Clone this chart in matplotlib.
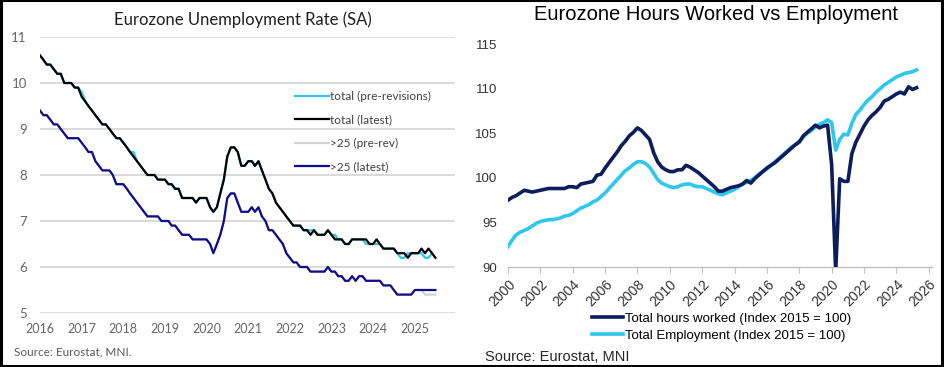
import matplotlib

matplotlib.use("Agg")

import matplotlib.dates as mdates
import matplotlib.pyplot as plt
import pandas as pd
from matplotlib.lines import Line2D

# Eurozone unemployment rate, monthly from Jan 2016
UNEMP_START = "2016-01-01"
TOTAL_LATEST = [
    10.6, 10.5, 10.4, 10.4, 10.3, 10.2, 10.2, 10.0, 10.0, 10.0, 9.9, 9.9,
    9.7, 9.6, 9.5, 9.4, 9.3, 9.2, 9.1, 9.1, 9.0, 8.9, 8.8, 8.8,
    8.7, 8.6, 8.5, 8.4, 8.3, 8.2, 8.1, 8.0, 8.0, 8.0, 7.9, 7.9,
    7.9, 7.8, 7.8, 7.7, 7.7, 7.5, 7.5, 7.5, 7.5, 7.4, 7.5, 7.5,
    7.5, 7.3, 7.2, 7.3, 7.6, 7.9, 8.4, 8.6, 8.6, 8.5, 8.2, 8.2,
    8.3, 8.3, 8.2, 8.3, 8.1, 7.9, 7.7, 7.6, 7.4, 7.3, 7.2, 7.1,
    7.0, 6.9, 6.9, 6.9, 6.8, 6.8, 6.7, 6.8, 6.7, 6.7, 6.7, 6.8,
    6.7, 6.6, 6.6, 6.6, 6.5, 6.5, 6.6, 6.6, 6.6, 6.6, 6.6, 6.5,
    6.5, 6.6, 6.5, 6.4, 6.4, 6.4, 6.4, 6.3, 6.3, 6.3, 6.2, 6.3,
    6.3, 6.3, 6.4, 6.3, 6.4, 6.3, 6.2,
]
TOTAL_PRE_REV = [
    10.6, 10.5, 10.4, 10.4, 10.3, 10.2, 10.2, 10.0, 10.0, 10.0, 9.9, 9.9,
    9.8, 9.6, 9.5, 9.4, 9.3, 9.2, 9.1, 9.1, 9.0, 8.9, 8.8, 8.8,
    8.7, 8.6, 8.5, 8.5, 8.3, 8.2, 8.1, 8.0, 8.0, 8.0, 7.9, 7.9,
    7.9, 7.8, 7.8, 7.7, 7.7, 7.5, 7.5, 7.5, 7.5, 7.4, 7.5, 7.5,
    7.5, 7.3, 7.2, 7.3, 7.6, 7.9, 8.4, 8.6, 8.6, 8.5, 8.2, 8.2,
    8.3, 8.3, 8.2, 8.3, 8.1, 7.9, 7.7, 7.6, 7.4, 7.3, 7.2, 7.1,
    7.0, 6.9, 6.9, 6.9, 6.8, 6.8, 6.8, 6.8, 6.7, 6.7, 6.7, 6.8,
    6.7, 6.7, 6.6, 6.6, 6.5, 6.5, 6.6, 6.6, 6.6, 6.6, 6.5, 6.5,
    6.5, 6.5, 6.5, 6.4, 6.4, 6.4, 6.4, 6.3, 6.2, 6.2, 6.3, 6.3,
    6.3, 6.3, 6.3, 6.2, 6.2, 6.3,
]
OVER25_LATEST = [
    9.4, 9.3, 9.3, 9.2, 9.1, 9.1, 9.0, 8.9, 8.8, 8.8, 8.8, 8.8,
    8.7, 8.6, 8.5, 8.5, 8.3, 8.2, 8.1, 8.1, 8.1, 8.0, 7.8, 7.8,
    7.8, 7.7, 7.6, 7.5, 7.4, 7.3, 7.2, 7.1, 7.1, 7.1, 7.1, 7.0,
    7.0, 7.0, 6.9, 6.9, 6.8, 6.7, 6.7, 6.7, 6.6, 6.6, 6.6, 6.6,
    6.6, 6.5, 6.3, 6.5, 6.7, 7.0, 7.5, 7.6, 7.6, 7.4, 7.2, 7.2,
    7.2, 7.3, 7.2, 7.3, 7.1, 7.0, 6.8, 6.8, 6.7, 6.6, 6.5, 6.3,
    6.2, 6.1, 6.1, 6.0, 6.0, 6.0, 5.9, 5.9, 5.9, 5.9, 5.9, 6.0,
    5.9, 5.9, 5.8, 5.8, 5.7, 5.7, 5.8, 5.7, 5.8, 5.8, 5.7, 5.7,
    5.7, 5.7, 5.7, 5.6, 5.6, 5.6, 5.5, 5.4, 5.4, 5.4, 5.4, 5.4,
    5.5, 5.5, 5.5, 5.5, 5.5, 5.5, 5.5,
]
OVER25_PRE_REV = [
    9.4, 9.3, 9.3, 9.2, 9.1, 9.1, 9.0, 8.9, 8.8, 8.8, 8.8, 8.8,
    8.7, 8.6, 8.5, 8.5, 8.3, 8.2, 8.1, 8.1, 8.1, 8.0, 7.8, 7.8,
    7.8, 7.7, 7.6, 7.5, 7.4, 7.3, 7.2, 7.1, 7.1, 7.1, 7.1, 7.0,
    7.0, 7.0, 6.9, 6.9, 6.8, 6.7, 6.7, 6.7, 6.6, 6.6, 6.6, 6.6,
    6.6, 6.5, 6.3, 6.5, 6.7, 7.0, 7.5, 7.6, 7.6, 7.4, 7.2, 7.2,
    7.2, 7.3, 7.2, 7.3, 7.1, 7.0, 6.8, 6.8, 6.7, 6.6, 6.5, 6.3,
    6.2, 6.1, 6.1, 6.0, 6.0, 6.0, 5.9, 5.9, 5.9, 5.9, 5.9, 6.0,
    5.9, 5.9, 5.8, 5.8, 5.7, 5.7, 5.8, 5.7, 5.8, 5.8, 5.7, 5.7,
    5.7, 5.7, 5.7, 5.6, 5.6, 5.6, 5.5, 5.4, 5.4, 5.4, 5.4, 5.4,
    5.5, 5.5, 5.5, 5.4, 5.4, 5.4, 5.4,
]
UNEMP_YTICKS = [5, 6, 7, 8, 9, 10, 11]

# Hours worked vs employment, quarterly from 2000Q1 (index 2015 = 100)
INDEX_START = "2000-01-01"
HOURS_WORKED = [
    97.5, 97.8, 98.0, 98.3, 98.6, 98.5, 98.4, 98.5,
    98.6, 98.7, 98.8, 98.8, 98.8, 98.8, 98.8, 99.0,
    99.0, 98.9, 99.3, 99.4, 99.5, 99.6, 100.3, 100.4,
    101.1, 101.7, 102.3, 102.9, 103.6, 104.1, 104.7, 105.1,
    105.6, 105.3, 104.8, 104.3, 102.8, 101.8, 101.2, 100.9,
    100.7, 100.7, 100.9, 100.9, 101.4, 101.2, 100.9, 100.6,
    100.2, 99.8, 99.4, 99.0, 98.5, 98.5, 98.7, 98.9,
    99.0, 99.1, 99.3, 99.7, 99.4, 99.9, 100.3, 100.7,
    101.1, 101.4, 101.7, 102.1, 102.5, 102.9, 103.3, 103.7,
    104.0, 104.7, 105.1, 105.5, 105.9, 105.6, 105.8, 105.9,
    101.5, 89.5, 99.9, 99.6, 99.6, 102.7, 104.0, 104.9,
    105.8, 106.5, 107.0, 107.4, 107.9, 108.6, 108.8, 109.1,
    109.4, 109.6, 109.4, 110.2, 109.9, 110.1,
]
EMPLOYMENT = [
    92.3, 93.0, 93.6, 93.9, 94.1, 94.3, 94.6, 94.9,
    95.1, 95.2, 95.3, 95.3, 95.4, 95.5, 95.7, 95.8,
    96.0, 96.3, 96.6, 96.8, 97.0, 97.3, 97.5, 97.9,
    98.3, 98.8, 99.3, 99.8, 100.3, 100.8, 101.1, 101.5,
    101.8, 101.8, 101.6, 101.2, 100.5, 99.8, 99.4, 99.2,
    99.0, 98.9, 99.0, 99.2, 99.3, 99.3, 99.1, 99.0,
    99.0, 98.8, 98.6, 98.4, 98.2, 98.1, 98.3, 98.5,
    98.7, 99.0, 99.3, 99.5, 99.7, 100.0, 100.4, 100.7,
    101.0, 101.4, 101.8, 102.2, 102.6, 103.0, 103.4, 103.7,
    104.1, 104.6, 105.0, 105.3, 105.7, 106.0, 106.2, 106.5,
    106.2, 103.1, 104.3, 104.9, 104.8, 106.1, 107.1, 107.6,
    108.2, 108.7, 109.1, 109.6, 110.0, 110.4, 110.7, 111.0,
    111.3, 111.5, 111.7, 111.8, 111.9, 112.1,
]
INDEX_YTICKS = [90, 95, 100, 105, 110, 115]

CYAN = "#2EC8EE"
NAVY_LEFT = "#0E0E8C"
NAVY_RIGHT = "#0B1D5C"
GRID = "#D9D9D9"
LEFT_FONT = "Lato"
RIGHT_FONT = "Liberation Sans"


def plot_unemployment(fig):
    ax = fig.add_axes([40 / 944, 1 - 313 / 367, 415 / 944, 276 / 367])
    dates = pd.date_range(UNEMP_START, periods=len(TOTAL_LATEST), freq="MS")

    ax.plot(dates[: len(TOTAL_PRE_REV)], TOTAL_PRE_REV, color=CYAN, lw=1.6,
            label="total (pre-revisions)")
    ax.plot(dates, TOTAL_LATEST, color="black", lw=1.6, label="total (latest)")
    ax.plot(dates[: len(OVER25_PRE_REV)], OVER25_PRE_REV, color="#D3D3D3",
            lw=1.6, label=">25 (pre-rev)")
    ax.plot(dates, OVER25_LATEST, color=NAVY_LEFT, lw=1.6, label=">25 (latest)")

    ax.set_xlim(pd.Timestamp("2016-01-01"), pd.Timestamp("2025-12-20"))
    ax.set_ylim(5, 11)
    ax.set_yticks(UNEMP_YTICKS)
    ax.xaxis.set_major_locator(mdates.YearLocator())
    ax.xaxis.set_major_formatter(mdates.DateFormatter("%Y"))
    ax.grid(True, axis="y", color=GRID, lw=1.4)
    ax.set_axisbelow(True)
    for s in ax.spines.values():
        s.set_visible(False)
    ax.tick_params(length=0, colors="#666666", labelsize=9)
    ax.tick_params(axis="x", pad=7)
    ax.tick_params(axis="y", pad=9.5, labelsize=9.5)
    for t in ax.get_xticklabels() + ax.get_yticklabels():
        t.set_fontfamily(LEFT_FONT)

    leg = ax.legend(loc="upper left", bbox_to_anchor=(0.59, 0.843),
                    frameon=False, handlelength=2.8, handletextpad=0.15,
                    labelspacing=1.05, prop={"family": LEFT_FONT, "size": 8.5})
    for t in leg.get_texts():
        t.set_color("#404040")

    fig.text(243 / 944, 1 - 20 / 367, "Eurozone Unemployment Rate (SA)",
             ha="center", va="center", fontsize=12, family=LEFT_FONT,
             color="#1F1F1F")
    fig.text(14 / 944, 1 - 352 / 367, "Source: Eurostat, MNI.", ha="left",
             va="center", fontsize=8.5, family=LEFT_FONT, color="#595959")


def plot_hours(fig):
    ax = fig.add_axes([508 / 944, 1 - 267 / 367, 424 / 944, 223 / 367])
    dates = pd.date_range(INDEX_START, periods=len(HOURS_WORKED), freq="QS")

    ax.plot(dates, HOURS_WORKED, color=NAVY_RIGHT, lw=2.6, zorder=3,
            label="Total hours worked (Index 2015 = 100)")
    ax.plot(dates, EMPLOYMENT, color=CYAN, lw=2.6,
            label="Total Employment (Index 2015 = 100)")

    ax.set_xlim(pd.Timestamp("2000-01-01"), pd.Timestamp("2026-03-15"))
    ax.set_ylim(90, 115)
    ax.set_yticks(INDEX_YTICKS)
    ax.xaxis.set_major_locator(mdates.YearLocator(2))
    ax.xaxis.set_major_formatter(mdates.DateFormatter("%Y"))
    for name in ["top", "right", "left"]:
        ax.spines[name].set_visible(False)
    ax.spines["bottom"].set_color("#BFBFBF")
    ax.spines["bottom"].set_linewidth(1.0)
    ax.tick_params(axis="y", length=0, pad=8, labelsize=9.5, colors="#333333")
    ax.tick_params(axis="x", length=4, color="#BFBFBF", pad=3.5, labelsize=10,
                   labelcolor="#333333")
    for t in ax.get_xticklabels():
        t.set_rotation(45)
        t.set_ha("right")
        t.set_va("top")
        t.set_rotation_mode("anchor")
    for t in ax.get_xticklabels() + ax.get_yticklabels():
        t.set_fontfamily(RIGHT_FONT)

    fig.legend(handles=ax.lines, loc="center", bbox_to_anchor=(0.764, 0.108),
               frameon=False, handlelength=2.4, handletextpad=0.1,
               labelspacing=0.35,
               prop={"family": RIGHT_FONT, "size": 9.5})

    fig.text(716 / 944, 1 - 14 / 367, "Eurozone Hours Worked vs Employment",
             ha="center", va="center", fontsize=14.5, family=RIGHT_FONT,
             color="black")
    fig.text(485 / 944, 1 - 357 / 367, "Source: Eurostat, MNI", ha="left",
             va="center", fontsize=10.5, family=RIGHT_FONT, color="#262626")


def main():
    fig = plt.figure(figsize=(9.44, 3.67), dpi=100)
    fig.patch.set_facecolor("white")

    plot_unemployment(fig)
    plot_hours(fig)

    # outer frame of the composite image
    frame = [
        ([0.001, 0.001], [0, 1]),
        ([0.998, 0.998], [0, 1]),
        ([0, 1], [0.999, 0.999]),
        ([0, 1], [0.004, 0.004]),
    ]
    for xs, ys in frame:
        fig.add_artist(Line2D(xs, ys, transform=fig.transFigure,
                              color="black", lw=2.2))

    fig.savefig("out.png", dpi=100)
    plt.close(fig)


if __name__ == "__main__":
    main()
